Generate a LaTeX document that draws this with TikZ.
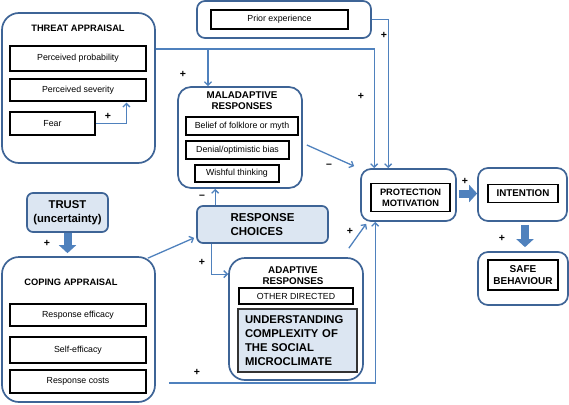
\documentclass[tikz,border=0pt]{standalone}
\usepackage{fontspec}
\setmainfont{Liberation Sans}
\usetikzlibrary{arrows.meta,calc}
\definecolor{lineblue}{RGB}{79,129,189}
\definecolor{boxblue}{RGB}{62,100,150}
\definecolor{fillblue}{RGB}{220,230,242}
\tikzset{
  outerbox/.style={draw=boxblue, line width=1.7pt, rounded corners=#1, inner sep=0pt},
  outerbox/.default=12pt,
  innerbox/.style={draw=black, line width=1.2pt, inner sep=0pt, align=center,
    font=\fontsize{8.8}{10}\selectfont},
  boxtitle/.style={font=\bfseries\fontsize{9.3}{11}\selectfont, align=center, inner sep=0pt},
  boxtitleb/.style={font=\bfseries\fontsize{9.8}{11.3}\selectfont, align=center, inner sep=0pt},
  conn/.style={draw=lineblue, line width=1.3pt, -{Straight Barb[length=3.5pt,width=7pt]}},
  sign/.style={font=\bfseries\fontsize{10.5}{10.5}\selectfont, inner sep=0pt},
  fat/.style={draw=lineblue, line width=8pt, -{Triangle[length=8pt,width=17pt]}},
}
\begin{document}
\begin{tikzpicture}[x=1pt,y=-1pt]
\useasboundingbox (0,0) rectangle (569,404);

% Threat appraisal
\node[outerbox=17pt, minimum width=153, minimum height=150] (threat) at (78.5,88) {};
\node[boxtitle] (ttitle) at (78,28) {THREAT APPRAISAL};
\node[innerbox, minimum width=136, minimum height=25] (pprob) at (78,58.5) {Perceived probability};
\node[innerbox, minimum width=136, minimum height=22] (psev) at (78,90) {Perceived severity};
\node[innerbox, minimum width=85, minimum height=23] (fear) at (52.5,123.5) {Fear};
\draw[conn] (fear.east) -| ($(psev.south west)+(117,1)$);
\node[sign] (sfear) at (108,116) {+};

% Prior experience
\node[outerbox=8pt, minimum width=174, minimum height=37] (prior) at (284,19.5) {};
\node[innerbox, minimum width=137, minimum height=19] (priorin) at (279.5,19.5) {Prior experience};

% Maladaptive responses
\node[outerbox=13pt, minimum width=124, minimum height=101] (mal) at (240,137.5) {};
\node[boxtitleb] (maltitle) at (242,100.5) {MALADAPTIVE\\RESPONSES};
\node[innerbox, minimum width=112, minimum height=18] (belief) at (242,126) {Belief of folklore or myth};
\node[innerbox, minimum width=103, minimum height=18] (denial) at (237.5,150) {Denial/optimistic bias};
\node[innerbox, minimum width=84, minimum height=17] (wish) at (237,173.5) {Wishful thinking};

% Protection motivation
\node[outerbox=10pt, minimum width=95, minimum height=52] (pm) at (408.5,195) {};
\node[innerbox, minimum width=79, minimum height=28, font=\bfseries\fontsize{9.3}{11}\selectfont] (pmin) at (410.5,197.5) {PROTECTION\\MOTIVATION};

% Intention
\node[outerbox=10pt, minimum width=89, minimum height=53] (int) at (522.5,194.5) {};
\node[innerbox, minimum width=70, minimum height=18, font=\bfseries\fontsize{9.8}{11}\selectfont] (intin) at (523,193.5) {INTENTION};

% Safe behaviour
\node[outerbox=10pt, minimum width=90, minimum height=53] (safe) at (523,278.5) {};
\node[innerbox, minimum width=70, minimum height=30, font=\bfseries\fontsize{10}{12}\selectfont] (safein) at (523,275) {SAFE\\BEHAVIOUR};

% Trust
\node[outerbox=6pt, fill=fillblue, minimum width=81, minimum height=39,
  font=\bfseries\fontsize{11.3}{13.5}\selectfont, align=center] (trust) at (67.5,212.5) {TRUST\\(uncertainty)};

% Coping appraisal
\node[outerbox=17pt, minimum width=153, minimum height=145] (coping) at (78.5,329.5) {};
\node[boxtitle] (ctitle) at (71,282) {COPING APPRAISAL};
\node[innerbox, minimum width=136, minimum height=22] (reff) at (78,315) {Response efficacy};
\node[innerbox, minimum width=136, minimum height=26] (self) at (78,350) {Self-efficacy};
\node[innerbox, minimum width=136, minimum height=23] (rcost) at (78,381.5) {Response costs};

% Response choices
\node[outerbox=6pt, fill=fillblue, minimum width=131, minimum height=37,
  font=\bfseries\fontsize{11.5}{14}\selectfont, align=left] (rc) at (262.5,224.5) {RESPONSE\\CHOICES};

% Adaptive responses
\node[outerbox=16pt, minimum width=134, minimum height=122] (ad) at (296,319) {};
\node[boxtitleb] (adtitle) at (293,275.5) {ADAPTIVE\\RESPONSES};
\node[innerbox, minimum width=114, minimum height=16] (other) at (296,296) {OTHER DIRECTED};
\node[draw=black!80, line width=1.6pt, fill=fillblue, inner sep=0pt, minimum width=119, minimum height=63,
  text width=105, align=left, font=\bfseries\fontsize{11.3}{14}\selectfont] (under) at (297.5,340.5)
  {UNDERSTANDING\\COMPLEXITY OF\\THE SOCIAL\\MICROCLIMATE};

% Connectors
\coordinate (tOut) at ($(threat.north east)+(0,37)$);
\coordinate (tBr) at (208,50);
\draw[conn] (tOut) -| ($(pm.north west)+(14,0)$);
\draw[conn] (tBr) -- (tBr |- mal.north);
\node[sign] (s1) at (183,74) {+};
\node[sign] (s2) at (361,96) {+};

\draw[conn] (prior.east) -| ($(pm.north west)+(28,0)$);
\node[sign] (s3) at (384,35) {+};

\draw[conn] ($(mal.east)+(4,7.5)$) -- ($(pm.north west)+(-6,-2)$);
\node[sign] (s4) at (329,166) {--};

\draw[fat] ($(pm.east)+(2,-1.5)$) -- ($(int.west)+(0,-1)$);
\node[sign] (s5) at (465,181) {+};
\draw[fat] ($(int.south)+(2.5,3)$) -- ($(safe.north)+(2,-4)$);
\node[sign] (s6) at (502,238) {+};

\coordinate (trEnd) at ($(trust.south |- coping.north)+(0,-3)$);
\draw[fat] (trust.south) -- (trEnd);
\node[sign] (s7) at (47,243) {+};

\draw[conn] ($(coping.north east)+(-8,2)$) -- ($(rc.south west)+(-2,-6)$);

\coordinate (rcUp) at ($(rc.north west)+(19,0)$);
\draw[conn] (rcUp) -- (rcUp |- mal.south);
\node[sign] (s8) at (202,197) {--};

\coordinate (adIn) at ($(ad.north west)+(0,17)$);
\draw[conn] ($(rc.south west)+(15,0)$) |- (adIn);
\node[sign] (s9) at (202,262) {+};

\draw[conn] ($(ad.north east)+(-15,-9)$) -- ($(pm.south west)+(6,2)$);
\node[sign] (s10) at (350,231) {+};

\coordinate (botS) at ($(coping.east)+(13,53.5)$);
\draw[conn] (botS) -| ($(pm.south west)+(15,0)$);
\node[sign] (s11) at (197,372) {+};
\end{tikzpicture}
\end{document}
